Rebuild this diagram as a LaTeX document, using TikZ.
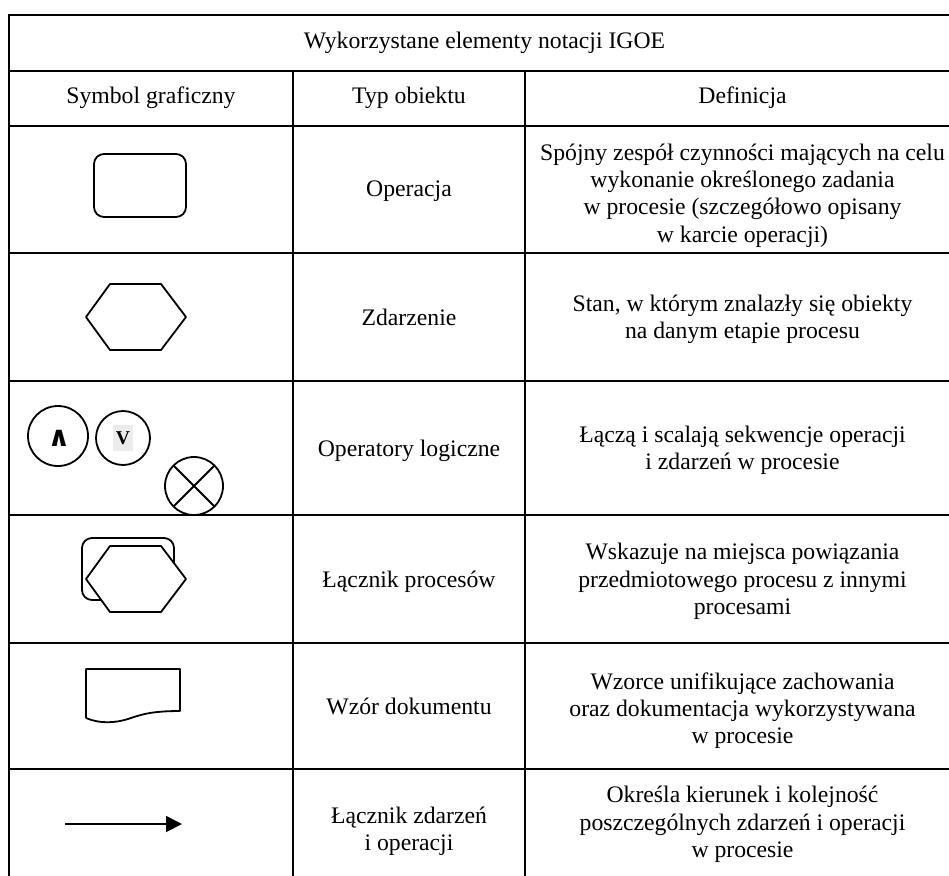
\documentclass[tikz,border=0pt]{standalone}
\usepackage{fontspec}
\setmainfont{Liberation Serif}
\newfontfamily\opfont{DejaVu Sans}
\usetikzlibrary{arrows.meta}

\begin{document}
\begin{tikzpicture}[x=1pt,y=-1pt,
        every node/.style={font=\fontsize{23.7}{27.3}\selectfont,inner sep=0pt,align=center},
        rule/.style={line width=2pt},
        symb/.style={line width=1.8pt,line join=round}
    ]
        \useasboundingbox (0,0) rectangle (949,875);
        \clip (0,0) rectangle (949,875);

        \begin{scope}[rule]
            \draw (9,15) rectangle (960,879);
            \foreach \y in {71,126,253,381,515,643,769}
                \draw (9,\y) -- (960,\y);
            \draw (293,71) -- (293,879);
            \draw (525,71) -- (525,879);
        \end{scope}

        \node (title) at (484.5,43) {Wykorzystane elementy notacji IGOE};
        \node (hSym) at (151,98) {Symbol graficzny};
        \node (hTyp) at (409,98) {Typ obiektu};
        \node (hDef) at (742.5,98) {Definicja};

        \begin{scope}[every node/.append style={text depth=0pt}]
            \node (t1) at (409,189) {Operacja};
            \node (t2) at (409,317) {Zdarzenie};
            \node (t3) at (409,448) {Operatory logiczne};
            \node (t4) at (409,579) {Łącznik procesów};
            \node (t5) at (409,706) {Wzór dokumentu};
            \node (t6) at (409,829) {Łącznik zdarzeń\\ i operacji};

            \node (d1) at (742.5,193) {Spójny zespół czynności mających na celu\\ wykonanie określonego zadania\\ w procesie (szczegółowo opisany\\ w karcie operacji)};
            \node (d2) at (742.5,317) {Stan, w którym znalazły się obiekty\\ na danym etapie procesu};
            \node (d3) at (742.5,448) {Łączą i scalają sekwencje operacji\\ i zdarzeń w procesie};
            \node (d4) at (742.5,579) {Wskazuje na miejsca powiązania\\ przedmiotowego procesu z innymi\\ procesami};
            \node (d5) at (742.5,708) {Wzorce unifikujące zachowania\\ oraz dokumentacja wykorzystywana\\ w procesie};
            \node (d6) at (742.5,822) {Określa kierunek i kolejność\\ poszczególnych zdarzeń i operacji\\ w procesie};
        \end{scope}

        \begin{scope}[symb]
            \draw[rounded corners=10pt] (94,154) rectangle (186,217);

            \draw (86,317) -- (110,284) -- (161,284) -- (186,317) -- (161,350) -- (110,350) -- cycle;

            \draw (58,436) circle (30);
            \draw (123,438) circle (27);
            \draw (194,486) circle (29);
            \draw (194,486) ++(-20.5,-20.5) -- ++(41,41);
            \draw (194,486) ++(20.5,-20.5) -- ++(-41,41);

            \draw[rounded corners=10pt] (82,538) rectangle (174,600);
            \draw[fill=white] (86,579) -- (110,546) -- (161,546) -- (186,579) -- (161,612) -- (110,612) -- cycle;

            \draw (86,718) -- (86,669) -- (180,669) -- (180,711)
                .. controls (150,711) and (140,715) .. (128,719)
                .. controls (115,723) and (100,724) .. (86,718);
        \end{scope}

        \node[font=\fontsize{28}{29}\selectfont\opfont\bfseries] (opAnd) at (59,438) {∧};
        \node[fill=gray!15,inner xsep=3pt,inner ysep=6pt,font=\fontsize{19.6}{20}\selectfont\bfseries] (opOr) at (123,438) {V};

        \coordinate (arrS) at (65,824);
        \coordinate (arrE) at (182,824);
        \draw[symb,-{Triangle[length=16pt,width=16pt]}] (arrS) -- (arrE);
    \end{tikzpicture}
\end{document}
